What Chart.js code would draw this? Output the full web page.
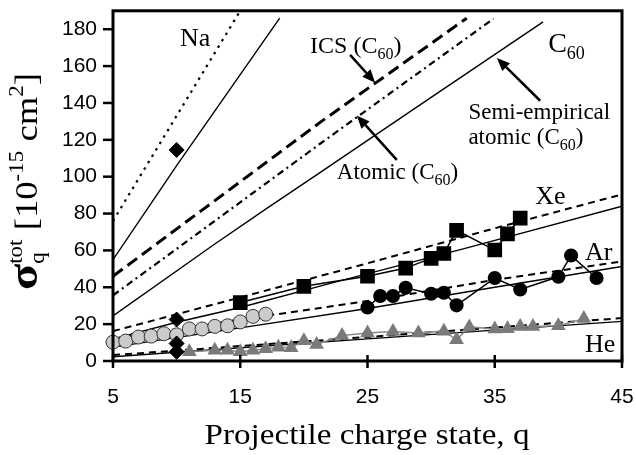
<!DOCTYPE html>
<html>
<head>
<meta charset="utf-8">
<script src="https://cdn.jsdelivr.net/npm/chart.js@4.4.1/dist/chart.umd.min.js"></script>
<style>
  html, body { margin: 0; padding: 0; background: #fff; }
</style>
</head>
<body>
<canvas id="grafico" width="636" height="455"></canvas>
<script>
// Marcas de los ejes
const ticksX = [5, 15, 25, 35, 45];
const ticksY = [0, 20, 40, 60, 80, 100, 120, 140, 160, 180];

// Curvas teóricas (q, sección eficaz)
const naPunteadoQ = [5, 10, 15];
const naPunteadoVal = [76, 133, 190];
const naSolidoQ = [5, 10, 18.1];
const naSolidoVal = [55, 106, 186];

const icsQ = [5, 13, 21.3, 32.8];
const icsVal = [46, 87, 129.6, 186];
const atomicoQ = [5, 13, 21.3, 34.9];
const atomicoVal = [35.6, 76, 118, 185.7];
const semiEmpQ = [5, 13, 17, 21, 30, 38.8];
const semiEmpVal = [24.5, 63.5, 82.4, 101, 143, 184];

const xeTeoQ = [5, 15, 25, 35, 45];
const xeDiscontVal = [16.2, 34.5, 53, 72, 90.4];
const xeSolidoQ = [5, 10, 15, 22, 32.6, 45];
const xeSolidoVal = [12, 21, 29, 42, 61, 84];

const arTeoQ = [5, 15, 25, 35, 45];
const arDiscontVal = [12, 22.5, 32.5, 44, 54];
const arSolidoVal = [7.5, 18, 28.5, 40, 51.3];

const heTeoQ = [5, 25, 45];
const heDiscontVal = [3.2, 13, 23.3];
const heSolidoVal = [2.3, 12, 21.5];

// Datos experimentales
const xeDatosQ = [15, 20, 25, 28, 30, 31, 32, 35, 36, 37];
const xeDatosVal = [31.7, 40.5, 46, 50.4, 55.7, 58.3, 70.9, 60.2, 69, 77.5];

const arDatosQ = [25, 26, 27, 28, 30, 31, 32, 35, 37, 40, 41, 43];
const arDatosVal = [29, 35.3, 35.3, 39.7, 36.5, 37, 30.2, 45, 38.8, 45.7, 57.2, 45];

const grisQ = [5, 6, 7, 8, 9, 10, 11, 12, 13, 14, 15, 16, 17];
const grisVal = [10.2, 10.8, 13, 13.5, 14.8, 14.2, 17.4, 17.4, 18.8, 19.1, 21.2, 24.2, 25.4];

const heDatosQ = [11, 13, 14, 15, 16, 17, 18, 19, 20, 21, 23, 25, 27, 29, 31, 32, 33, 35, 36, 37, 38, 40, 42];
const heDatosVal = [5, 5.8, 5.8, 5, 5.8, 6.7, 7.5, 7.2, 11, 9, 13.8, 15.2, 16, 15.2, 16.2, 11.5, 18.5, 17.3, 17.5, 18.7, 18.7, 19.1, 23];

const diamantesQ = [10, 10, 10, 10];
const diamantesVal = [114.5, 22.5, 9.5, 5];

// Convierte dos listas en puntos {x, y}
function puntos(qs, vals) {
    return qs.map((q, i) => ({ x: q, y: vals[i] }));
}

const SERIF = '"Liberation Serif", "Times New Roman", serif';
const SANS = '"Liberation Sans", Arial, sans-serif';

// Textos del gráfico (posición en unidades de datos)
const etiquetas = [
    { q: 10.27, v: 171.1, partes: [{ t: 'Na', s: 26 }] },
    { q: 20.49, v: 167, partes: [{ t: 'ICS (C', s: 24 }, { t: '60', s: 16, dy: 6 }, { t: ')', s: 24 }] },
    { q: 39.2, v: 167.9, partes: [{ t: 'C', s: 28 }, { t: '60', s: 18, dy: 7 }] },
    { q: 32.93, v: 131.4, partes: [{ t: 'Semi-empirical', s: 23 }] },
    { q: 32.93, v: 118, partes: [{ t: 'atomic (C', s: 23 }, { t: '60', s: 16, dy: 6 }, { t: ')', s: 23 }] },
    { q: 22.59, v: 98.5, partes: [{ t: 'Atomic (C', s: 23 }, { t: '60', s: 16, dy: 6 }, { t: ')', s: 23 }] },
    { q: 38.18, v: 85.1, partes: [{ t: 'Xe', s: 26 }] },
    { q: 42.1, v: 54.9, partes: [{ t: 'Ar', s: 26 }] },
    { q: 42.1, v: 5, partes: [{ t: 'He', s: 26 }] },
];

// Flechas: cola -> punta (unidades de datos)
const flechas = [
    { q1: 23.63, v1: 166.1, q2: 25.6, v2: 151 },
    { q1: 38.57, v1: 141.2, q2: 35.17, v2: 164.4 },
    { q1: 27.3, v1: 109.1, q2: 24.16, v2: 133.2 },
];

// Dibuja una lista de trozos de texto (con sub/superíndices)
function dibujarPartes(ctx, partes, x0, y0, soloMedir) {
    let x = x0;
    partes.forEach(p => {
        ctx.font = (p.b ? 'bold ' : '') + p.s + 'px ' + SERIF;
        if (!soloMedir) ctx.fillText(p.t, x, y0 + (p.dy || 0));
        if (p.avanza !== false) x += ctx.measureText(p.t).width;
    });
    return x - x0;
}

function dibujarFlecha(ctx, x1, y1, x2, y2) {
    const ang = Math.atan2(y2 - y1, x2 - x1);
    const largo = 13, ancho = 5.5;
    const bx = x2 - Math.cos(ang) * largo, by = y2 - Math.sin(ang) * largo;
    ctx.lineWidth = 2.5;
    ctx.beginPath();
    ctx.moveTo(x1, y1);
    ctx.lineTo(bx, by);
    ctx.stroke();
    ctx.beginPath();
    ctx.moveTo(x2, y2);
    ctx.lineTo(bx + Math.sin(ang) * ancho, by - Math.cos(ang) * ancho);
    ctx.lineTo(bx - Math.sin(ang) * ancho, by + Math.cos(ang) * ancho);
    ctx.closePath();
    ctx.fill();
}

// Quita el relleno extra que Chart.js deja para las etiquetas de los extremos
function sinRelleno(s) {
    s.paddingLeft = 0;
    s.paddingRight = 0;
    s.paddingTop = 0;
    s.paddingBottom = 0;
}

const decoraciones = {
    id: 'decoraciones',
    afterDraw(chart) {
        const { ctx, chartArea: a, scales: { x, y } } = chart;
        ctx.save();
        ctx.strokeStyle = '#000';
        ctx.fillStyle = '#000';

        // Marco del gráfico
        ctx.lineWidth = 3;
        ctx.strokeRect(a.left, a.top, a.right - a.left, a.bottom - a.top);

        // Marcas de los ejes
        ctx.lineWidth = 2.5;
        ticksX.forEach(v => {
            const px = x.getPixelForValue(v);
            ctx.beginPath();
            ctx.moveTo(px, a.bottom - 6);
            ctx.lineTo(px, a.bottom + 7);
            ctx.stroke();
        });
        ticksY.forEach(v => {
            const py = y.getPixelForValue(v);
            ctx.beginPath();
            ctx.moveTo(a.left - 10, py);
            ctx.lineTo(a.left, py);
            ctx.stroke();
        });

        // Etiquetas y flechas
        ctx.textBaseline = 'alphabetic';
        ctx.textAlign = 'left';
        etiquetas.forEach(e => {
            dibujarPartes(ctx, e.partes, x.getPixelForValue(e.q), y.getPixelForValue(e.v));
        });
        flechas.forEach(f => {
            dibujarFlecha(ctx, x.getPixelForValue(f.q1), y.getPixelForValue(f.v1),
                x.getPixelForValue(f.q2), y.getPixelForValue(f.v2));
        });

        // Título eje x (algo más ancho, como en el original)
        ctx.save();
        ctx.textAlign = 'center';
        ctx.font = '29px ' + SERIF;
        const tituloX = 'Projectile charge state, q';
        const anchoX = ctx.measureText(tituloX).width;
        ctx.translate(367, 444);
        ctx.scale(325 / anchoX, 1);
        ctx.fillText(tituloX, 0, 0);
        ctx.restore();

        // Título eje y (rotado)
        ctx.textAlign = 'left';
        const partesY = [
            { t: 'σ', s: 42, b: true },
            { t: 'q', s: 20, dy: 7, avanza: false },
            { t: 'tot', s: 20, dy: -15 },
            { t: ' [10', s: 32 },
            { t: '-15', s: 20, dy: -14 },
            { t: ' cm', s: 32 },
            { t: '2', s: 20, dy: -14 },
            { t: ']', s: 32 },
        ];
        const total = dibujarPartes(ctx, partesY, 0, 0, true);
        ctx.translate(37, 181.5);
        ctx.rotate(-Math.PI / 2);
        ctx.scale(217 / total, 1);
        dibujarPartes(ctx, partesY, -total / 2, 0);
        ctx.restore();
    }
};

// Estilos comunes
const linea = (datos, dash, ancho) => ({
    data: datos,
    borderColor: '#000',
    borderWidth: ancho,
    borderDash: dash,
    pointRadius: 0,
    fill: false,
    tension: 0,
});

new Chart(document.getElementById('grafico'), {
    type: 'line',
    data: {
        datasets: [
            {
                data: puntos(diamantesQ, diamantesVal),
                showLine: false,
                pointStyle: 'rectRot',
                pointRadius: 7.5,
                pointBackgroundColor: '#000',
                pointBorderColor: '#000',
                clip: false,
            },
            {
                data: puntos(xeDatosQ, xeDatosVal),
                borderColor: '#000',
                borderWidth: 1.5,
                pointStyle: 'rect',
                pointRadius: 9.3,
                pointBackgroundColor: '#000',
                pointBorderColor: '#000',
                clip: false,
            },
            {
                data: puntos(arDatosQ, arDatosVal),
                borderColor: '#000',
                borderWidth: 1.5,
                pointRadius: 6.3,
                pointBackgroundColor: '#000',
                pointBorderColor: '#000',
                clip: false,
            },
            {
                data: puntos(grisQ, grisVal),
                showLine: false,
                pointRadius: 7,
                pointBackgroundColor: '#cbcbcb',
                pointBorderColor: '#333',
                pointBorderWidth: 1,
                clip: false,
            },
            {
                data: puntos(heDatosQ, heDatosVal),
                borderColor: '#8a8a8a',
                borderWidth: 1.5,
                pointStyle: 'triangle',
                pointRadius: 8.5,
                pointBackgroundColor: '#7a7a7a',
                pointBorderColor: '#7a7a7a',
                pointBorderWidth: 0,
                clip: false,
            },
            linea(puntos(naPunteadoQ, naPunteadoVal), [2.5, 5], 2.2),
            linea(puntos(naSolidoQ, naSolidoVal), [], 1.4),
            linea(puntos(icsQ, icsVal), [12, 6], 3),
            linea(puntos(atomicoQ, atomicoVal), [7, 4, 2, 4], 2.2),
            linea(puntos(semiEmpQ, semiEmpVal), [], 1.4),
            linea(puntos(xeTeoQ, xeDiscontVal), [7, 5], 2),
            linea(puntos(xeSolidoQ, xeSolidoVal), [], 1.4),
            linea(puntos(arTeoQ, arDiscontVal), [7, 5], 2),
            linea(puntos(arTeoQ, arSolidoVal), [], 1.4),
            linea(puntos(heTeoQ, heDiscontVal), [7, 5], 2),
            linea(puntos(heTeoQ, heSolidoVal), [], 1.4),
        ],
    },
    options: {
        responsive: false,
        animation: false,
        devicePixelRatio: 1,
        layout: { padding: { top: 5, right: 14, left: 0, bottom: 0 } },
        plugins: { legend: { display: false }, tooltip: { enabled: false } },
        scales: {
            x: {
                type: 'linear',
                min: 5,
                max: 45,
                grid: { display: false, drawTicks: false },
                border: { display: false },
                ticks: { color: '#000', padding: 24, font: { family: SANS, size: 21 } },
                afterBuildTicks: s => { s.ticks = ticksX.map(v => ({ value: v })); },
                afterFit: s => { s.height = 94; sinRelleno(s); },
            },
            y: {
                type: 'linear',
                min: 0,
                max: 190,
                grid: { display: false, drawTicks: false },
                border: { display: false },
                ticks: { color: '#000', padding: 16, font: { family: SANS, size: 21 } },
                afterBuildTicks: s => { s.ticks = ticksY.map(v => ({ value: v })); },
                afterFit: s => { s.width = 113; sinRelleno(s); },
            },
        },
    },
    plugins: [decoraciones],
});
</script>
</body>
</html>
